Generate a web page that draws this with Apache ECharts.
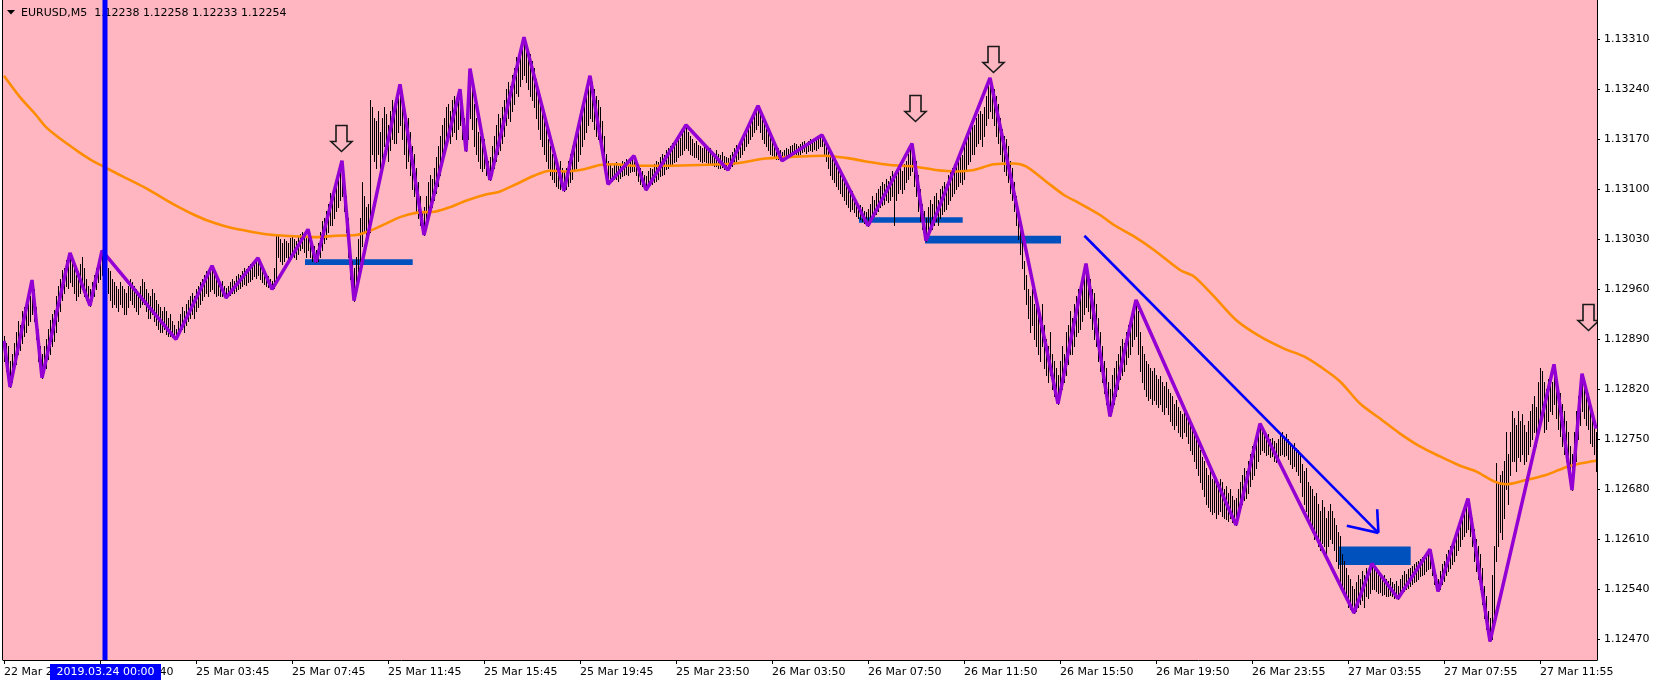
<!DOCTYPE html>
<html><head><meta charset="utf-8">
<script src="https://cdn.jsdelivr.net/npm/echarts@6/dist/echarts.min.js"></script>
<style>html,body{margin:0;padding:0;background:#fff}#c{width:1660px;height:684px}</style>
</head><body><div id="c"></div>
<script>
// ---------- data ----------
const titleText = 'EURUSD,M5  1.12238 1.12258 1.12233 1.12254';
const tickIdx = [0,48,96,144,192,240,288,336,384,432,480,528,576,624,672,720,768];
const tickLabels = ['22 Mar 21:45','24 Mar 23:40','25 Mar 03:45','25 Mar 07:45','25 Mar 11:45','25 Mar 15:45','25 Mar 19:45','25 Mar 23:50','26 Mar 03:50','26 Mar 07:50','26 Mar 11:50','26 Mar 15:50','26 Mar 19:50','26 Mar 23:55','27 Mar 03:55','27 Mar 07:55','27 Mar 11:55'];
const priceTicks = [1.12470,1.12540,1.12610,1.12680,1.12750,1.12820,1.12890,1.12960,1.13030,1.13100,1.13170,1.13240,1.13310];

// [high, low] of each M5 bar
const barHL = [
[1.12895,1.12860],[1.12885,1.12845],[1.12880,1.12840],[1.12860,1.12823],[1.12870,1.12830],[1.12885,1.12845],[1.12900,1.12855],[1.12915,1.12870],[1.12910,1.12875],[1.12930,1.12885],
[1.12935,1.12895],[1.12945,1.12900],[1.12955,1.12910],[1.12950,1.12915],[1.12973,1.12925],[1.12960,1.12915],[1.12935,1.12890],[1.12905,1.12860],[1.12880,1.12845],[1.12870,1.12836],
[1.12880,1.12845],[1.12890,1.12850],[1.12905,1.12862],[1.12917,1.12870],[1.12925,1.12880],[1.12931,1.12888],[1.12950,1.12900],[1.12965,1.12915],[1.12975,1.12930],[1.12987,1.12945],
[1.12990,1.12955],[1.13001,1.12965],[1.12998,1.12962],[1.13011,1.12970],[1.13000,1.12965],[1.12990,1.12955],[1.12980,1.12945],[1.12985,1.12950],[1.12995,1.12955],[1.13005,1.12960],
[1.12990,1.12950],[1.12975,1.12945],[1.12965,1.12940],[1.12960,1.12937],[1.12970,1.12945],[1.12980,1.12950],[1.12990,1.12960],[1.13000,1.12970],[1.13008,1.12975],[1.13014,1.12980],
[1.13005,1.12970],[1.12995,1.12960],[1.12990,1.12955],[1.12985,1.12945],[1.12975,1.12935],[1.12970,1.12940],[1.12965,1.12935],[1.12960,1.12930],[1.12970,1.12940],[1.12965,1.12935],
[1.12960,1.12925],[1.12955,1.12925],[1.12965,1.12935],[1.12975,1.12945],[1.12970,1.12940],[1.12965,1.12935],[1.12960,1.12930],[1.12955,1.12925],[1.12965,1.12935],[1.12975,1.12940],
[1.12970,1.12940],[1.12960,1.12930],[1.12955,1.12920],[1.12950,1.12920],[1.12960,1.12925],[1.12955,1.12915],[1.12945,1.12910],[1.12940,1.12905],[1.12935,1.12900],[1.12930,1.12900],
[1.12935,1.12905],[1.12930,1.12898],[1.12920,1.12895],[1.12925,1.12895],[1.12915,1.12893],[1.12910,1.12892],[1.12905,1.12890],[1.12915,1.12895],[1.12925,1.12900],[1.12935,1.12905],
[1.12930,1.12900],[1.12940,1.12910],[1.12945,1.12915],[1.12950,1.12920],[1.12955,1.12925],[1.12950,1.12920],[1.12960,1.12930],[1.12965,1.12935],[1.12970,1.12940],[1.12975,1.12945],
[1.12980,1.12950],[1.12985,1.12955],[1.12978,1.12950],[1.12988,1.12958],[1.12993,1.12960],[1.12985,1.12955],[1.12978,1.12950],[1.12975,1.12952],[1.12970,1.12950],[1.12972,1.12950],
[1.12965,1.12950],[1.12962,1.12948],[1.12965,1.12950],[1.12970,1.12952],[1.12975,1.12955],[1.12972,1.12955],[1.12978,1.12958],[1.12982,1.12960],[1.12980,1.12962],[1.12985,1.12965],
[1.12990,1.12968],[1.12988,1.12966],[1.12992,1.12970],[1.12995,1.12972],[1.12998,1.12975],[1.13000,1.12978],[1.12998,1.12976],[1.13004,1.12980],[1.12998,1.12975],[1.12990,1.12970],
[1.12985,1.12968],[1.12980,1.12965],[1.12978,1.12963],[1.12975,1.12962],[1.12972,1.12960],[1.12990,1.12962],[1.13038,1.12970],[1.13035,1.13005],[1.13030,1.13000],[1.13025,1.12995],
[1.13030,1.13000],[1.13028,1.13005],[1.13025,1.13000],[1.13032,1.13008],[1.13035,1.13010],[1.13030,1.13005],[1.13028,1.13002],[1.13035,1.13010],[1.13038,1.13015],[1.13040,1.13018],
[1.13036,1.13012],[1.13035,1.13005],[1.13044,1.13015],[1.13030,1.13005],[1.13025,1.13000],[1.13020,1.12999],[1.13015,1.12998],[1.13025,1.13000],[1.13040,1.13005],[1.13055,1.13015],
[1.13060,1.13025],[1.13070,1.13030],[1.13080,1.13040],[1.13095,1.13050],[1.13090,1.13050],[1.13100,1.13060],[1.13110,1.13070],[1.13115,1.13075],[1.13125,1.13085],[1.13140,1.13090],
[1.13120,1.13070],[1.13090,1.13040],[1.13060,1.13005],[1.13020,1.12975],[1.13000,1.12955],[1.12990,1.12944],[1.13005,1.12960],[1.13030,1.12975],[1.13060,1.13000],[1.13110,1.13020],
[1.13090,1.13040],[1.13075,1.13030],[1.13080,1.13040],[1.13225,1.13040],[1.13215,1.13150],[1.13200,1.13140],[1.13195,1.13130],[1.13210,1.13150],[1.13180,1.13130],[1.13200,1.13140],
[1.13215,1.13160],[1.13205,1.13150],[1.13190,1.13140],[1.13210,1.13155],[1.13225,1.13170],[1.13220,1.13165],[1.13215,1.13165],[1.13235,1.13180],[1.13247,1.13190],[1.13230,1.13170],
[1.13210,1.13150],[1.13195,1.13130],[1.13200,1.13140],[1.13180,1.13120],[1.13160,1.13100],[1.13150,1.13090],[1.13130,1.13070],[1.13110,1.13060],[1.13090,1.13050],[1.13070,1.13045],
[1.13075,1.13036],[1.13090,1.13050],[1.13110,1.13060],[1.13120,1.13070],[1.13115,1.13075],[1.13130,1.13085],[1.13145,1.13095],[1.13160,1.13105],[1.13175,1.13120],[1.13190,1.13135],
[1.13200,1.13150],[1.13215,1.13160],[1.13220,1.13170],[1.13210,1.13165],[1.13225,1.13175],[1.13230,1.13180],[1.13225,1.13170],[1.13235,1.13185],[1.13240,1.13190],[1.13220,1.13170],
[1.13200,1.13160],[1.13190,1.13153],[1.13230,1.13170],[1.13269,1.13200],[1.13245,1.13185],[1.13220,1.13160],[1.13200,1.13150],[1.13180,1.13140],[1.13175,1.13130],[1.13165,1.13125],
[1.13170,1.13130],[1.13150,1.13120],[1.13140,1.13115],[1.13145,1.13113],[1.13160,1.13120],[1.13175,1.13130],[1.13190,1.13140],[1.13205,1.13150],[1.13200,1.13155],[1.13215,1.13165],
[1.13225,1.13175],[1.13240,1.13190],[1.13250,1.13200],[1.13245,1.13195],[1.13260,1.13210],[1.13270,1.13220],[1.13285,1.13235],[1.13280,1.13230],[1.13295,1.13245],[1.13300,1.13255],
[1.13313,1.13260],[1.13300,1.13250],[1.13295,1.13240],[1.13290,1.13230],[1.13280,1.13225],[1.13270,1.13215],[1.13255,1.13200],[1.13240,1.13185],[1.13225,1.13170],[1.13215,1.13160],
[1.13200,1.13150],[1.13185,1.13140],[1.13170,1.13130],[1.13160,1.13120],[1.13150,1.13115],[1.13155,1.13110],[1.13140,1.13105],[1.13135,1.13102],[1.13140,1.13100],[1.13130,1.13100],
[1.13125,1.13098],[1.13130,1.13100],[1.13140,1.13105],[1.13150,1.13110],[1.13160,1.13115],[1.13170,1.13125],[1.13180,1.13130],[1.13195,1.13140],[1.13205,1.13150],[1.13215,1.13160],
[1.13225,1.13170],[1.13235,1.13180],[1.13245,1.13190],[1.13259,1.13200],[1.13250,1.13195],[1.13240,1.13185],[1.13230,1.13175],[1.13225,1.13170],[1.13215,1.13160],[1.13195,1.13145],
[1.13175,1.13130],[1.13150,1.13115],[1.13140,1.13107],[1.13135,1.13110],[1.13130,1.13112],[1.13135,1.13115],[1.13138,1.13115],[1.13132,1.13112],[1.13136,1.13116],[1.13140,1.13118],
[1.13138,1.13120],[1.13142,1.13122],[1.13140,1.13120],[1.13144,1.13124],[1.13145,1.13125],[1.13147,1.13126],[1.13140,1.13120],[1.13135,1.13112],[1.13130,1.13108],[1.13125,1.13104],
[1.13120,1.13102],[1.13118,1.13099],[1.13125,1.13103],[1.13130,1.13106],[1.13128,1.13108],[1.13135,1.13110],[1.13140,1.13112],[1.13138,1.13115],[1.13145,1.13118],[1.13150,1.13120],
[1.13148,1.13122],[1.13155,1.13128],[1.13158,1.13130],[1.13160,1.13132],[1.13165,1.13135],[1.13162,1.13138],[1.13170,1.13140],[1.13175,1.13145],[1.13172,1.13148],[1.13180,1.13150],
[1.13185,1.13155],[1.13190,1.13158],[1.13180,1.13155],[1.13175,1.13150],[1.13170,1.13148],[1.13165,1.13145],[1.13168,1.13145],[1.13162,1.13142],[1.13160,1.13140],[1.13158,1.13138],
[1.13162,1.13140],[1.13160,1.13138],[1.13155,1.13135],[1.13158,1.13136],[1.13152,1.13134],[1.13150,1.13132],[1.13155,1.13133],[1.13150,1.13130],[1.13148,1.13130],[1.13152,1.13131],
[1.13146,1.13129],[1.13145,1.13128],[1.13144,1.13127],[1.13148,1.13130],[1.13152,1.13132],[1.13158,1.13136],[1.13162,1.13140],[1.13160,1.13142],[1.13168,1.13145],[1.13172,1.13150],
[1.13178,1.13155],[1.13185,1.13160],[1.13190,1.13165],[1.13195,1.13170],[1.13200,1.13175],[1.13205,1.13180],[1.13210,1.13185],[1.13217,1.13190],[1.13205,1.13180],[1.13200,1.13170],
[1.13195,1.13165],[1.13185,1.13160],[1.13180,1.13155],[1.13175,1.13150],[1.13170,1.13148],[1.13165,1.13145],[1.13160,1.13143],[1.13158,1.13142],[1.13155,1.13141],[1.13152,1.13140],
[1.13155,1.13142],[1.13158,1.13144],[1.13156,1.13145],[1.13160,1.13146],[1.13162,1.13148],[1.13165,1.13150],[1.13163,1.13149],[1.13160,1.13148],[1.13164,1.13150],[1.13166,1.13152],
[1.13168,1.13153],[1.13165,1.13151],[1.13167,1.13153],[1.13170,1.13155],[1.13168,1.13154],[1.13172,1.13156],[1.13170,1.13155],[1.13173,1.13158],[1.13174,1.13160],[1.13176,1.13160],
[1.13172,1.13150],[1.13165,1.13140],[1.13160,1.13130],[1.13150,1.13120],[1.13145,1.13115],[1.13140,1.13110],[1.13135,1.13105],[1.13125,1.13100],[1.13120,1.13095],[1.13115,1.13090],
[1.13110,1.13085],[1.13105,1.13080],[1.13100,1.13075],[1.13095,1.13070],[1.13098,1.13072],[1.13090,1.13068],[1.13085,1.13063],[1.13080,1.13060],[1.13078,1.13058],[1.13075,1.13055],
[1.13070,1.13053],[1.13068,1.13051],[1.13072,1.13049],[1.13080,1.13055],[1.13090,1.13060],[1.13085,1.13062],[1.13095,1.13065],[1.13100,1.13070],[1.13105,1.13075],[1.13110,1.13078],
[1.13108,1.13080],[1.13115,1.13085],[1.13112,1.13082],[1.13118,1.13085],[1.13125,1.13090],[1.13120,1.13050],[1.13122,1.13085],[1.13128,1.13095],[1.13130,1.13100],[1.13125,1.13095],
[1.13135,1.13100],[1.13140,1.13110],[1.13150,1.13115],[1.13158,1.13120],[1.13164,1.13125],[1.13150,1.13105],[1.13140,1.13090],[1.13120,1.13070],[1.13100,1.13055],[1.13080,1.13045],
[1.13070,1.13035],[1.13060,1.13028],[1.13075,1.13035],[1.13085,1.13040],[1.13080,1.13045],[1.13090,1.13050],[1.13095,1.13055],[1.13085,1.13050],[1.13100,1.13060],[1.13105,1.13065],
[1.13110,1.13070],[1.13108,1.13072],[1.13120,1.13080],[1.13125,1.13085],[1.13130,1.13090],[1.13135,1.13095],[1.13140,1.13100],[1.13145,1.13105],[1.13150,1.13110],[1.13148,1.13108],
[1.13160,1.13115],[1.13170,1.13125],[1.13180,1.13135],[1.13190,1.13140],[1.13195,1.13150],[1.13190,1.13150],[1.13200,1.13160],[1.13205,1.13165],[1.13210,1.13170],[1.13205,1.13160],
[1.13215,1.13175],[1.13230,1.13190],[1.13245,1.13200],[1.13256,1.13210],[1.13245,1.13200],[1.13240,1.13190],[1.13230,1.13175],[1.13220,1.13165],[1.13200,1.13150],[1.13185,1.13140],
[1.13175,1.13125],[1.13170,1.13120],[1.13160,1.13110],[1.13140,1.13095],[1.13130,1.13085],[1.13110,1.13070],[1.13090,1.13050],[1.13070,1.13030],[1.13050,1.13010],[1.13030,1.12990],
[1.13000,1.12960],[1.12980,1.12940],[1.12960,1.12920],[1.12950,1.12900],[1.12960,1.12910],[1.12940,1.12890],[1.12950,1.12880],[1.12930,1.12870],[1.12920,1.12860],[1.12940,1.12880],
[1.12910,1.12850],[1.12890,1.12840],[1.12880,1.12830],[1.12900,1.12840],[1.12870,1.12820],[1.12860,1.12810],[1.12850,1.12805],[1.12840,1.12800],[1.12860,1.12810],[1.12880,1.12820],
[1.12870,1.12830],[1.12900,1.12840],[1.12910,1.12855],[1.12930,1.12870],[1.12920,1.12870],[1.12940,1.12880],[1.12950,1.12895],[1.12960,1.12900],[1.12955,1.12905],[1.12970,1.12915],
[1.12985,1.12925],[1.12996,1.12935],[1.12980,1.12930],[1.12975,1.12920],[1.12960,1.12905],[1.12955,1.12890],[1.12940,1.12880],[1.12920,1.12860],[1.12900,1.12845],[1.12880,1.12830],
[1.12860,1.12815],[1.12850,1.12800],[1.12830,1.12790],[1.12820,1.12782],[1.12840,1.12790],[1.12850,1.12800],[1.12860,1.12810],[1.12870,1.12820],[1.12880,1.12835],[1.12890,1.12840],
[1.12885,1.12845],[1.12900,1.12855],[1.12910,1.12865],[1.12920,1.12870],[1.12925,1.12880],[1.12935,1.12890],[1.12945,1.12895],[1.12930,1.12870],[1.12900,1.12845],[1.12880,1.12830],
[1.12870,1.12820],[1.12860,1.12810],[1.12855,1.12805],[1.12850,1.12808],[1.12845,1.12800],[1.12850,1.12805],[1.12840,1.12800],[1.12835,1.12795],[1.12838,1.12800],[1.12830,1.12790],
[1.12825,1.12785],[1.12830,1.12795],[1.12820,1.12785],[1.12815,1.12775],[1.12810,1.12770],[1.12800,1.12765],[1.12805,1.12770],[1.12795,1.12760],[1.12790,1.12755],[1.12785,1.12752],
[1.12795,1.12760],[1.12790,1.12755],[1.12780,1.12745],[1.12770,1.12735],[1.12765,1.12730],[1.12760,1.12720],[1.12750,1.12710],[1.12745,1.12700],[1.12735,1.12690],[1.12725,1.12680],
[1.12720,1.12670],[1.12710,1.12660],[1.12700,1.12655],[1.12705,1.12650],[1.12695,1.12645],[1.12700,1.12648],[1.12690,1.12640],[1.12685,1.12645],[1.12695,1.12650],[1.12690,1.12642],
[1.12680,1.12640],[1.12685,1.12638],[1.12675,1.12636],[1.12680,1.12640],[1.12670,1.12634],[1.12665,1.12632],[1.12668,1.12630],[1.12680,1.12640],[1.12690,1.12650],[1.12700,1.12660],
[1.12710,1.12665],[1.12705,1.12668],[1.12720,1.12675],[1.12730,1.12685],[1.12740,1.12695],[1.12745,1.12700],[1.12755,1.12710],[1.12765,1.12720],[1.12772,1.12730],[1.12765,1.12735],
[1.12760,1.12732],[1.12755,1.12728],[1.12758,1.12730],[1.12750,1.12725],[1.12752,1.12726],[1.12748,1.12720],[1.12745,1.12718],[1.12750,1.12722],[1.12756,1.12728],[1.12760,1.12730],
[1.12755,1.12726],[1.12758,1.12728],[1.12750,1.12722],[1.12745,1.12715],[1.12740,1.12710],[1.12745,1.12712],[1.12738,1.12705],[1.12735,1.12700],[1.12730,1.12690],[1.12715,1.12670],
[1.12705,1.12660],[1.12710,1.12650],[1.12690,1.12640],[1.12685,1.12630],[1.12680,1.12620],[1.12670,1.12610],[1.12675,1.12615],[1.12660,1.12600],[1.12650,1.12595],[1.12665,1.12605],
[1.12655,1.12600],[1.12640,1.12590],[1.12650,1.12600],[1.12660,1.12610],[1.12650,1.12605],[1.12640,1.12595],[1.12630,1.12580],[1.12620,1.12570],[1.12615,1.12545],[1.12590,1.12540],
[1.12580,1.12530],[1.12570,1.12525],[1.12560,1.12515],[1.12555,1.12512],[1.12545,1.12510],[1.12540,1.12507],[1.12550,1.12510],[1.12560,1.12515],[1.12555,1.12520],[1.12565,1.12525],
[1.12560,1.12515],[1.12570,1.12530],[1.12565,1.12528],[1.12572,1.12535],[1.12576,1.12540],[1.12570,1.12540],[1.12565,1.12538],[1.12560,1.12535],[1.12562,1.12536],[1.12558,1.12532],
[1.12560,1.12534],[1.12555,1.12530],[1.12552,1.12530],[1.12556,1.12532],[1.12550,1.12530],[1.12548,1.12528],[1.12552,1.12530],[1.12545,1.12527],[1.12555,1.12530],[1.12560,1.12535],
[1.12565,1.12538],[1.12562,1.12540],[1.12568,1.12542],[1.12570,1.12545],[1.12572,1.12548],[1.12575,1.12550],[1.12578,1.12552],[1.12580,1.12555],[1.12582,1.12558],[1.12585,1.12560],
[1.12588,1.12562],[1.12590,1.12565],[1.12592,1.12568],[1.12596,1.12570],[1.12585,1.12560],[1.12570,1.12548],[1.12560,1.12540],[1.12555,1.12537],[1.12565,1.12540],[1.12575,1.12548],
[1.12580,1.12552],[1.12590,1.12560],[1.12595,1.12565],[1.12600,1.12570],[1.12605,1.12575],[1.12615,1.12580],[1.12620,1.12588],[1.12630,1.12595],[1.12640,1.12600],[1.12645,1.12610],
[1.12650,1.12615],[1.12660,1.12620],[1.12667,1.12625],[1.12655,1.12615],[1.12640,1.12600],[1.12625,1.12580],[1.12610,1.12565],[1.12600,1.12555],[1.12590,1.12540],[1.12570,1.12520],
[1.12545,1.12500],[1.12530,1.12485],[1.12510,1.12475],[1.12500,1.12467],[1.12560,1.12470],[1.12600,1.12500],[1.12717,1.12580],[1.12690,1.12600],[1.12700,1.12620],[1.12705,1.12610],
[1.12720,1.12640],[1.12760,1.12680],[1.12730,1.12660],[1.12760,1.12700],[1.12790,1.12720],[1.12780,1.12720],[1.12770,1.12705],[1.12790,1.12725],[1.12775,1.12720],[1.12785,1.12730],
[1.12770,1.12715],[1.12760,1.12720],[1.12775,1.12730],[1.12790,1.12740],[1.12800,1.12750],[1.12810,1.12760],[1.12795,1.12740],[1.12830,1.12760],[1.12850,1.12780],[1.12845,1.12790],
[1.12830,1.12760],[1.12820,1.12765],[1.12835,1.12775],[1.12840,1.12790],[1.12830,1.12785],[1.12855,1.12800],[1.12840,1.12780],[1.12825,1.12765],[1.12815,1.12755],[1.12800,1.12740],
[1.12790,1.12730],[1.12775,1.12720],[1.12760,1.12705],[1.12740,1.12690],[1.12730,1.12679],[1.12760,1.12700],[1.12790,1.12720],[1.12810,1.12750],[1.12830,1.12770],[1.12842,1.12790],
[1.12835,1.12780],[1.12825,1.12770],[1.12815,1.12765],[1.12800,1.12745],[1.12790,1.12740],[1.12780,1.12730],[1.12760,1.12705]
];

// moving average (orange), sampled at bar indices
const maIdx = [0,8,16,21,28,36,43,51,60,70,78,86,93,101,111,121,131,140,148,156,166,176,183,191,198,206,216,223,231,240,248,256,265,273,281,290,298,306,315,331,348,365,381,398,410,421,431,443,455,466,476,485,495,505,511,521,530,538,548,555,565,575,588,595,605,616,628,640,650,658,668,678,688,698,708,718,728,736,745,751,761,771,781,788,796];
const maVal = [1.13259,1.13229,1.13204,1.13187,1.13171,1.13155,1.13142,1.13130,1.13117,1.13103,1.13090,1.13077,1.13067,1.13057,1.13048,1.13042,1.13037,1.13035,1.13034,1.13033,1.13035,1.13036,1.13042,1.13052,1.13061,1.13067,1.13069,1.13075,1.13084,1.13092,1.13097,1.13107,1.13119,1.13126,1.13125,1.13128,1.13134,1.13135,1.13133,1.13133,1.13134,1.13136,1.13143,1.13146,1.13147,1.13144,1.13139,1.13134,1.13132,1.13127,1.13125,1.13127,1.13135,1.13136,1.13132,1.13111,1.13092,1.13080,1.13064,1.13050,1.13034,1.13015,1.12987,1.12978,1.12950,1.12917,1.12894,1.12877,1.12866,1.12852,1.12831,1.12800,1.12779,1.12758,1.12740,1.12726,1.12713,1.12705,1.12691,1.12687,1.12693,1.12700,1.12711,1.12716,1.12720];

// zigzag pivots (purple)
const zzIdx = [0,3,14,19,33,43,49,86,104,111,127,134,152,156,169,175,198,210,228,231,233,243,260,280,293,302,315,321,341,362,377,389,409,432,454,461,493,527,541,553,566,616,628,675,684,697,713,717,732,743,775,784,789,796];
const zzVal = [1.12888,1.12823,1.12973,1.12836,1.13011,1.12937,1.13014,1.12890,1.12993,1.12948,1.13004,1.12960,1.13044,1.12998,1.13140,1.12944,1.13247,1.13036,1.13240,1.13153,1.13269,1.13113,1.13313,1.13098,1.13259,1.13107,1.13147,1.13099,1.13190,1.13127,1.13217,1.13140,1.13176,1.13049,1.13164,1.13028,1.13256,1.12800,1.12996,1.12782,1.12945,1.12630,1.12772,1.12507,1.12576,1.12527,1.12596,1.12537,1.12667,1.12467,1.12855,1.12679,1.12842,1.12765];

// rectangle objects: [fromBar, toBar, topPrice, bottomPrice]
const rects = [[150.5,204.35,1.13002,1.12994],[427.5,479.35,1.13061,1.13053],[460.5,528.5,1.13035,1.13024],[667.5,703.35,1.12600,1.12574]];
// vertical line object
const vLineAt = 50.5;
const vLineLabel = '2019.03.24 00:00';
// trend arrow: start and tip, and the two head wing ends
const trendLine = [[540.2,1.13035],[687.2,1.12619]];
const trendWings = [[671.4,1.12629],[686.6,1.12652]];
// hollow down-arrow objects (tip position)
const arrowIdx = [168.4,455.5,494.3,792];
const arrowVal = [1.13153,1.13195,1.13264,1.12903];

// ---------- chart ----------
const FONT = '"DejaVu Sans"';
const chart = echarts.init(document.getElementById('c'), null, {renderer:'canvas'});

const option = {
  animation:false,
  backgroundColor:'#ffffff',
  grid:{left:3,right:63,top:0,bottom:24,show:true,backgroundColor:'#FFB6C1',borderWidth:0},
  xAxis:{type:'value',min:-0.5,max:796.5,
    axisLine:{show:true,onZero:false,lineStyle:{color:'#000',width:1}},
    axisTick:{show:true,customValues:tickIdx,length:4,lineStyle:{color:'#000'}},
    axisLabel:{customValues:tickIdx,align:'left',margin:7,color:'#000',fontFamily:'DejaVu Sans',fontSize:11,
      formatter:v=>{const k=tickIdx.indexOf(Math.round(v));return k>=0?tickLabels[k]:'';}},
    splitLine:{show:false}},
  yAxis:{type:'value',position:'right',min:1.12441,max:1.13365,
    axisLine:{show:true,onZero:false,lineStyle:{color:'#000',width:1}},
    axisTick:{show:true,customValues:priceTicks,length:3,lineStyle:{color:'#000'}},
    axisLabel:{customValues:priceTicks,margin:7,color:'#000',fontFamily:'DejaVu Sans',fontSize:11,
      formatter:v=>Number(v).toFixed(5)},
    splitLine:{show:false}},
  graphic:[
    {type:'line',z:50,shape:{x1:2.5,y1:0,x2:2.5,y2:660},style:{stroke:'#000',lineWidth:1}},
    {type:'polygon',z:1,shape:{points:[[7,10],[15,10],[11,14.5]]},style:{fill:'#000'}},
    {type:'text',z:1,x:21,y:13,style:{text:titleText,fill:'#000',font:'11px '+FONT,verticalAlign:'middle'}},
    {type:'rect',z:100,shape:{x:50,y:664,width:111,height:16},style:{fill:'#0000ff'}},
    {type:'text',z:101,x:105.5,y:672,style:{text:vLineLabel,fill:'#ffffff',font:'11px '+FONT,align:'center',verticalAlign:'middle'}}
  ],
  series:[
    {type:'custom',name:'rects',z:1,silent:true,clip:true,
      encode:{x:[0,1],y:[2,3]},data:rects,
      renderItem:(p,api)=>{
        const a=api.coord([api.value(0),api.value(2)]);
        const b=api.coord([api.value(1),api.value(3)]);
        return {type:'rect',shape:{x:a[0],y:a[1],width:b[0]-a[0],height:b[1]-a[1]},style:{fill:'#0050be'}};
      }},
    {type:'custom',name:'bars',z:2,silent:true,clip:true,
      encode:{x:0,y:[1,2]},data:barHL.map((d,i)=>[i,d[0],d[1]]),
      renderItem:(p,api)=>{
        const t=api.coord([api.value(0),api.value(1)]);
        const b=api.coord([api.value(0),api.value(2)]);
        const x=Math.floor(t[0])+0.5;
        return {type:'line',shape:{x1:x,y1:Math.round(t[1]),x2:x,y2:Math.round(b[1])+1},style:{stroke:'#000',lineWidth:1}};
      }},
    {type:'line',name:'MA',z:3,silent:true,showSymbol:false,smooth:0.3,
      data:maIdx.map((v,k)=>[v,maVal[k]]),
      lineStyle:{color:'#FF8C00',width:2.6}},
    {type:'line',name:'ZigZag',z:4,silent:true,showSymbol:false,
      data:zzIdx.map((v,k)=>[v,zzVal[k]]),
      lineStyle:{color:'#9400D3',width:3.5}},
    {type:'custom',name:'trend',z:5,silent:true,clip:true,
      data:[[trendLine[0][0],trendLine[0][1]]],encode:{x:0,y:1},
      renderItem:(p,api)=>{
        const s=api.coord(trendLine[0]);const e=api.coord(trendLine[1]);
        const w1=api.coord(trendWings[0]);const w2=api.coord(trendWings[1]);
        const st={stroke:'#0000ff',lineWidth:2.6};
        return {type:'group',children:[
          {type:'line',shape:{x1:s[0],y1:s[1],x2:e[0],y2:e[1]},style:st},
          {type:'line',shape:{x1:w1[0],y1:w1[1],x2:e[0],y2:e[1]},style:st},
          {type:'line',shape:{x1:w2[0],y1:w2[1],x2:e[0],y2:e[1]},style:st}
        ]};
      }},
    {type:'custom',name:'vline',z:6,silent:true,
      data:[[vLineAt,1.13]],encode:{x:0,y:1},
      renderItem:(p,api)=>{
        const x=api.coord([api.value(0),api.value(1)])[0];
        const cs=p.coordSys;
        return {type:'rect',shape:{x:x-2.5,y:cs.y,width:5,height:cs.height},style:{fill:'#0000ff'}};
      }},
    {type:'custom',name:'arrows',z:7,silent:true,clip:true,
      data:arrowIdx.map((v,k)=>[v,arrowVal[k]]),encode:{x:0,y:1},
      renderItem:(p,api)=>{
        const c=api.coord([api.value(0),api.value(1)]);
        const tx=Math.round(c[0])+0.5, ty=Math.round(c[1])+0.5;
        const pts=[[tx-5.5,ty-26],[tx+5.5,ty-26],[tx+5.5,ty-10],[tx+10.5,ty-10],[tx,ty],[tx-10.5,ty-10],[tx-5.5,ty-10]];
        return {type:'polygon',shape:{points:pts},style:{fill:'rgba(0,0,0,0)',stroke:'#1a1a1a',lineWidth:1.6}};
      }}
  ]
};
chart.setOption(option);
</script>
</body></html>
